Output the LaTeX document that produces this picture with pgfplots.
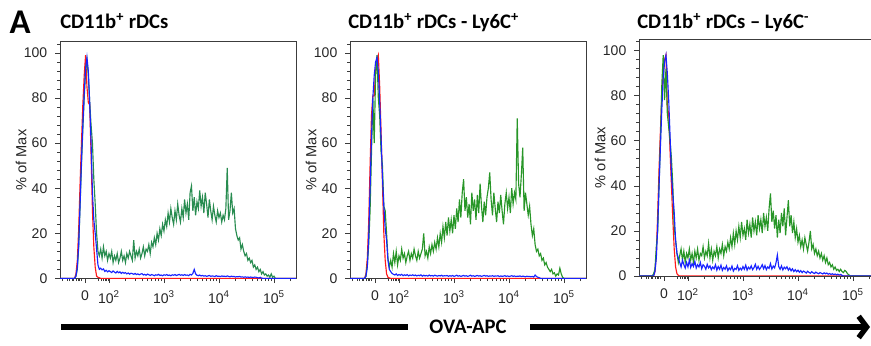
\documentclass[border=0pt]{standalone}
\usepackage{fontspec}
\setmainfont{Liberation Sans}
\newfontfamily\calibri{Carlito}
\usepackage{pgfplots}
\usepackage{pgfplotstable}
\pgfplotsset{compat=1.18}
\usetikzlibrary{arrows.meta}
\definecolor{cred}{RGB}{255,25,25}
\definecolor{cblue}{RGB}{25,35,255}
\definecolor{cgreenA}{RGB}{40,140,80}
\definecolor{cgreenB}{RGB}{40,150,40}
\definecolor{axgray}{RGB}{60,60,60}

\pgfplotstableread{
u r b g
1.110 0 0 0
1.375 0 0 0
1.400 2 1 1
1.425 8 5 4
1.450 22 15 14
1.475 42 33 32
1.500 60 52 50
1.525 77 68 66
1.550 90 82 80
1.575 99 93 92
1.600 85 98 97
1.625 78 92 90
1.650 77 78 78
1.675 55 60 68
1.700 30 38 60
1.725 14 26 44
1.750 5 20 33
1.775 1 13 20
1.800 0.5 6 12
1.825 0.3 4 10
1.850 0 4.5 13
1.875 0 3.8 9
1.900 0 4.2 14
1.925 0 3.1 10
1.950 0 3.6 12
1.975 0 2.9 8
2.000 0 3.4 11
2.025 0 3.0 9
2.050 0 2.6 12
2.075 0 3.3 7
2.100 0 2.8 10
2.125 0 2.4 8
2.150 0 3.1 11
2.175 0 2.5 7
2.200 0 2.9 9
2.225 0 2.2 12
2.250 0 2.7 8
2.275 0 2.3 10
2.300 0 2.6 7
2.325 0 2.0 11
2.350 0 2.4 9
2.375 0 1.9 12
2.400 0 2.3 10
2.425 0 2.1 8
2.450 0 1.8 17
2.475 0 2.2 9
2.500 0 1.7 12
2.525 0 2.0 10
2.550 0 1.6 13
2.575 0 1.9 9
2.600 0 2.1 11
2.625 0 1.5 14
2.650 0 1.8 10
2.675 0 1.4 13
2.700 0 1.9 12
2.725 0 1.6 15
2.750 0 1.3 11
2.775 0 1.7 16
2.800 0 1.5 14
2.825 0 1.2 18
2.850 0 1.6 15
2.875 0 1.4 20
2.900 0 1.8 17
2.925 0 1.3 22
2.950 0 1.5 19
2.975 0 1.2 24
3.000 0 1.6 21
3.025 0 1.4 26
3.050 0 1.7 23
3.075 0 1.3 29
3.100 0 1.5 25
3.125 0 1.2 31
3.150 0 1.6 27
3.175 0 1.4 24
3.200 0 1.7 30
3.225 0 1.3 26
3.250 0 1.5 33
3.275 0 1.8 28
3.300 0 1.4 25
3.325 0 1.6 31
3.350 0 1.3 27
3.375 0 1.7 35
3.400 0 1.4 29
3.425 0 1.5 33
3.450 0 1.2 26
3.475 0 1.8 38
3.500 0 1.5 41
3.525 0 2.2 30
3.550 0 4.0 36
3.575 0 2.0 28
3.600 0 1.4 34
3.625 0 1.2 31
3.650 0 1.5 39
3.675 0 1.1 32
3.700 0 1.3 36
3.725 0 1.0 29
3.750 0 1.2 38
3.775 0 0.9 33
3.800 0 1.1 27
3.825 0 1.3 35
3.850 0 0.9 30
3.875 0 1.1 26
3.900 0 1.0 32
3.925 0 0.8 28
3.950 0 1.2 25
3.975 0 0.9 30
4.000 0 1.0 27
4.025 0 0.8 29
4.050 0 1.1 25
4.075 0 0.9 28
4.100 0 1.0 26
4.125 0 0.8 31
4.150 0 1.1 49
4.175 0 0.9 26
4.200 0 0.7 30
4.225 0 1.0 38
4.250 0 0.8 29
4.275 0 0.9 31
4.300 0 0.6 22
4.325 0 0.8 19
4.350 0 0.7 17
4.375 0 0.9 18
4.400 0 0.6 13
4.425 0 0.7 15
4.450 0 0.5 12
4.475 0 0.7 10
4.500 0 0.5 11
4.525 0 0.6 8
4.550 0 0.4 9
4.575 0 0.6 7
4.600 0 0.5 8
4.625 0 0.4 5
4.650 0 0.6 6
4.675 0 0.5 4
4.700 0 0.3 5
4.725 0 0.2 3
4.750 0 0.5 4
4.775 0 0.1 2
4.800 0 0 3
4.825 0 0 1.5
4.850 0 0 2
4.875 0 0 1
4.900 0 0 1.5
4.925 0 0 0.5
4.950 0 0 2
4.975 0 0 0.5
5.000 0 0 1
5.025 0 0 0
5.400 0 0 0
}\panelA

\pgfplotstableread{
u r b g
1.110 0 0 0
1.375 0 0 0
1.400 2 1 1
1.425 9 5 6
1.450 25 18 15
1.475 50 40 30
1.500 72 62 55
1.525 81 80 80
1.550 81 90 60
1.575 92 96 90
1.600 97 98 99
1.625 99 92 80
1.650 85 78 72
1.675 65 62 56
1.700 42 45 50
1.725 20 32 32
1.750 8 22 30
1.775 2 17 20
1.800 0.5 8 9
1.825 0.2 4 5
1.850 0 3 8
1.875 0 2.2 5
1.900 0 1.8 11
1.925 0 1.5 7
1.950 0 2.0 12
1.975 0 1.3 6
2.000 0 1.7 10
2.025 0 1.4 8
2.050 0 1.8 13
2.075 0 1.2 9
2.100 0 1.6 11
2.125 0 1.3 7
2.150 0 1.7 10
2.175 0 1.1 12
2.200 0 1.5 8
2.225 0 1.3 11
2.250 0 1.6 9
2.275 0 1.2 13
2.300 0 1.5 10
2.325 0 1.1 8
2.350 0 1.4 12
2.375 0 1.2 9
2.400 0 1.6 11
2.425 0 1.0 13
2.450 0 1.4 20
2.475 0 1.1 10
2.500 0 1.3 12
2.525 0 1.0 9
2.550 0 1.5 14
2.575 0 1.1 11
2.600 0 1.3 15
2.625 0 1.0 12
2.650 0 1.4 16
2.675 0 1.2 13
2.700 0 1.0 18
2.725 0 1.3 14
2.750 0 1.1 20
2.775 0 1.4 16
2.800 0 1.0 23
2.825 0 1.2 18
2.850 0 1.1 25
2.875 0 1.3 19
2.900 0 0.9 27
2.925 0 1.2 21
2.950 0 1.0 26
2.975 0 1.3 20
3.000 0 0.9 28
3.025 0 1.1 22
3.050 0 1.4 31
3.075 0 1.0 25
3.100 0 1.2 35
3.125 0 0.9 27
3.150 0 1.1 38
3.175 0 1.3 44
3.200 0 1.0 30
3.225 0 1.2 36
3.250 0 0.9 27
3.275 0 1.1 33
3.300 0 1.4 24
3.325 0 1.0 38
3.350 0 1.2 30
3.375 0 0.9 35
3.400 0 1.1 26
3.425 0 1.3 37
3.450 0 1.0 29
3.475 0 1.2 42
3.500 0 0.9 32
3.525 0 1.1 25
3.550 0 1.3 34
3.575 0 1.0 28
3.600 0 1.2 36
3.625 0 0.9 40
3.650 0 1.1 47
3.675 0 1.0 35
3.700 0 1.2 28
3.725 0 0.9 38
3.750 0 1.1 31
3.775 0 1.0 25
3.800 0 1.2 34
3.825 0 0.8 29
3.850 0 1.1 37
3.875 0 0.9 30
3.900 0 1.0 24
3.925 0 1.2 33
3.950 0 0.9 38
3.975 0 1.1 31
4.000 0 0.8 36
4.025 0 1.0 29
4.050 0 1.2 40
4.075 0 0.9 33
4.100 0 1.1 38
4.125 0 0.8 35
4.150 0 1.0 71
4.175 0 0.9 42
4.200 0 1.1 36
4.225 0 0.8 46
4.250 0 1.0 58
4.275 0 0.9 30
4.300 0 0.7 38
4.325 0 1.0 33
4.350 0 0.8 28
4.375 0 0.9 32
4.400 0 0.7 24
4.425 0 0.9 19
4.450 0 0.6 22
4.475 0 1.5 15
4.500 0 0.8 12
4.525 0 0.5 13
4.550 0 0.3 10
4.575 0 0 11
4.600 0 0 8
4.625 0 0 9
4.650 0 0 6
4.675 0 0 7
4.700 0 0 5
4.725 0 0 4
4.750 0 0 3
4.775 0 0 4
4.800 0 0 2
4.825 0 0 2.5
4.850 0 0 1
4.875 0 0 2
4.900 0 0 1.5
4.925 0 0 4.5
4.950 0 0 2
4.975 0 0 0.5
5.000 0 0 0
5.400 0 0 0
}\panelB

\pgfplotstableread{
u r b g
1.110 0 0 0
1.350 0 0 0
1.375 0 0 1
1.400 2 2 3
1.425 10 8 13
1.450 28 22 20
1.475 48 40 41
1.500 65 58 60
1.525 80 74 85
1.550 90 88 98
1.575 96 95 78
1.600 98 98 92
1.625 75 90 72
1.650 72 78 66
1.675 55 62 60
1.700 40 45 52
1.725 25 36 40
1.750 12 28 22
1.775 4 16 16
1.800 1 10 10
1.825 0.3 8 6
1.850 0 6 9
1.875 0 4 12
1.900 0 7 7
1.925 0 5 11
1.950 0 3.5 6
1.975 0 6 10
2.000 0 4 8
2.025 0 7 12
2.050 0 3.8 7
2.075 0 5.5 10
2.100 0 4.2 6
2.125 0 6.5 11
2.150 0 3.5 8
2.175 0 5 12
2.200 0 4 7
2.225 0 6 10
2.250 0 3.2 9
2.275 0 5 13
2.300 0 4.3 8
2.325 0 3 11
2.350 0 5.2 9
2.375 0 3.6 14.5
2.400 0 4.5 8
2.425 0 2.8 12
2.450 0 4 7
2.475 0 3.2 11
2.500 0 5 9
2.525 0 2.6 13
2.550 0 4.2 8
2.575 0 3 12
2.600 0 4.8 10
2.625 0 2.5 14
2.650 0 3.8 9
2.675 0 3 13
2.700 0 4.5 11
2.725 0 2.4 15
2.750 0 3.6 12
2.775 0 2.8 17
2.800 0 4.4 13
2.825 0 2.2 19
2.850 0 3.4 14
2.875 0 2.9 20
2.900 0 4.6 16
2.925 0 2.5 22
2.950 0 3.5 17
2.975 0 2.7 24
3.000 0 4.2 18
3.025 0 3 21
3.050 0 4.8 16
3.075 0 2.6 25
3.100 0 3.9 19
3.125 0 3.1 23
3.150 0 4.5 17
3.175 0 2.8 26
3.200 0 3.7 20
3.225 0 5.2 24
3.250 0 3 18
3.275 0 4.3 27
3.300 0 2.9 21
3.325 0 3.8 25
3.350 0 5 19
3.375 0 3.2 28
3.400 0 4.6 22
3.425 0 2.8 26
3.450 0 4 20
3.475 0 3.4 30
3.500 0 5.5 36.6
3.525 0 3.1 24
3.550 0 4.4 29
3.575 0 3.6 21
3.600 0 5.8 27
3.625 0 9.3 17
3.650 0 4.2 25
3.675 0 3 19
3.700 0 4.5 28
3.725 0 2.7 22
3.750 0 3.9 30
3.775 0 3.2 18
3.800 0 4.1 26
3.825 0 2.6 33.6
3.850 0 3.5 22
3.875 0 2.3 27
3.900 0 3.2 19
3.925 0 2 24
3.950 0 2.8 17
3.975 0 1.9 21
4.000 0 2.6 15
4.025 0 1.7 18
4.050 0 2.4 13
4.075 0 1.5 16
4.100 0 2.2 12
4.125 0 1.8 17
4.150 0 1.3 14
4.175 0 2.1 11
4.200 0 1.6 15
4.225 0 1.2 20
4.250 0 1.9 12
4.275 0 1.4 14
4.300 0 1.1 10
4.325 0 1.7 12
4.350 0 1.3 9
4.375 0 1 11
4.400 0 1.5 8
4.425 0 1.2 10
4.450 0 0.9 7
4.475 0 1.4 9
4.500 0 1 6
4.525 0 1.3 8
4.550 0 0.8 5
4.575 0 1.1 6
4.600 0 0.7 4
4.625 0 1 5
4.650 0 0.6 3
4.675 0 0.9 4
4.700 0 0.5 2.5
4.725 0 0.8 3
4.750 0 0.4 2
4.775 0 0.7 3
4.800 0 0.3 2
4.825 0 0 1.5
4.850 0 0 2.5
4.875 0 0 2
4.900 0 0 1
4.925 0 0 0.5
4.950 0 0 0
5.400 0 0 0
}\panelC

\pgfplotsset{flowax/.style={
  scale only axis, width=177pt, height=177.5pt,
  anchor=south west,
  xmin=1.11, xmax=5.40, ymin=0, ymax=105,
  xtick={1.564,2,3,4,5},
  xticklabels={0,10\textsuperscript{2},10\textsuperscript{3},10\textsuperscript{4},10\textsuperscript{5}},
  minor xtick={1.16,1.24,1.28,1.33,1.36,1.40,1.44,1.46,1.50,1.80,1.86,1.90,1.93,1.96,1.98,
    2.301,2.477,2.602,2.699,2.778,2.845,2.903,2.954,
    3.301,3.477,3.602,3.699,3.778,3.845,3.903,3.954,
    4.301,4.477,4.602,4.699,4.778,4.845,4.903,4.954,5.301},
  ytick={0,20,40,60,80,100},
  minor ytick={4,8,12,16,24,28,32,36,44,48,52,56,64,68,72,76,84,88,92,96,104},
  tick align=outside, tick pos=left,
  major tick length=3.5pt, minor tick length=2pt,
  every tick/.style={axgray, line width=0.5pt},
  axis line style={axgray, line width=0.7pt},
  /pgf/number format/assume math mode=true,
  tick label style={font=\fontsize{10.5}{12}\selectfont, text=black!85},
  xticklabel style={yshift=-2.5pt},
  yticklabel style={xshift=-2.5pt},
  ylabel={\% of Max},
  every axis y label/.style={at={(axis description cs:-0.165,0.5)}, rotate=90, anchor=center,
    font=\fontsize{11}{13}\selectfont, text=black!85},
  clip=true,
}}

\begin{document}
\begin{tikzpicture}
% Panel 1
\begin{axis}[flowax, at={(45pt,50.7pt)}]
\addplot[cred, line width=0.85pt] table[x=u,y=r]{\panelA};
\addplot[cgreenA, line width=0.85pt] table[x=u,y=g]{\panelA};
\addplot[cblue, line width=0.85pt] table[x=u,y=b]{\panelA};
\end{axis}
% Panel 2
\begin{axis}[flowax, at={(262.5pt,50.7pt)}]
\addplot[cred, line width=0.85pt] table[x=u,y=r]{\panelB};
\addplot[cgreenB, line width=0.85pt] table[x=u,y=g]{\panelB};
\addplot[cblue, line width=0.85pt] table[x=u,y=b]{\panelB};
\end{axis}
% Panel 3
\begin{axis}[flowax, at={(479.25pt,52.5pt)}]
\addplot[cred, line width=0.85pt] table[x=u,y=r]{\panelC};
\addplot[cgreenB, line width=0.85pt] table[x=u,y=g]{\panelC};
\addplot[cblue, line width=0.85pt] table[x=u,y=b]{\panelC};
\end{axis}
% Titles
\node[anchor=base west, inner sep=0pt, font=\calibri\bfseries\fontsize{26}{30}\selectfont] at (7pt,234.5pt) {A};
\node[anchor=base west, inner sep=0pt, font=\calibri\bfseries\fontsize{15.5}{18}\selectfont] at (45pt,238.3pt) {CD11b\textsuperscript{+} rDCs};
\node[anchor=base west, inner sep=0pt, font=\calibri\bfseries\fontsize{15.5}{18}\selectfont] at (261pt,238.3pt) {CD11b\textsuperscript{+} rDCs - Ly6C\textsuperscript{+}};
\node[anchor=base west, inner sep=0pt, font=\calibri\bfseries\fontsize{15.5}{18}\selectfont] at (477.75pt,238.3pt) {CD11b\textsuperscript{+} rDCs – Ly6C\textsuperscript{-}};
% Bottom arrow
\draw[line width=4pt] (45.75pt,14.25pt) -- (306pt,14.25pt);
\draw[line width=4pt, -{Straight Barb[length=6pt,width=16pt]}] (397.5pt,14.25pt) -- (652.5pt,14.25pt);
\node[anchor=center, inner sep=0pt, font=\calibri\bfseries\fontsize{15.5}{18}\selectfont] at (351pt,14.25pt) {OVA-APC};
\pgfresetboundingbox
\path[use as bounding box] (0pt,0pt) rectangle (653.25pt,259.5pt);
\end{tikzpicture}
\end{document}
